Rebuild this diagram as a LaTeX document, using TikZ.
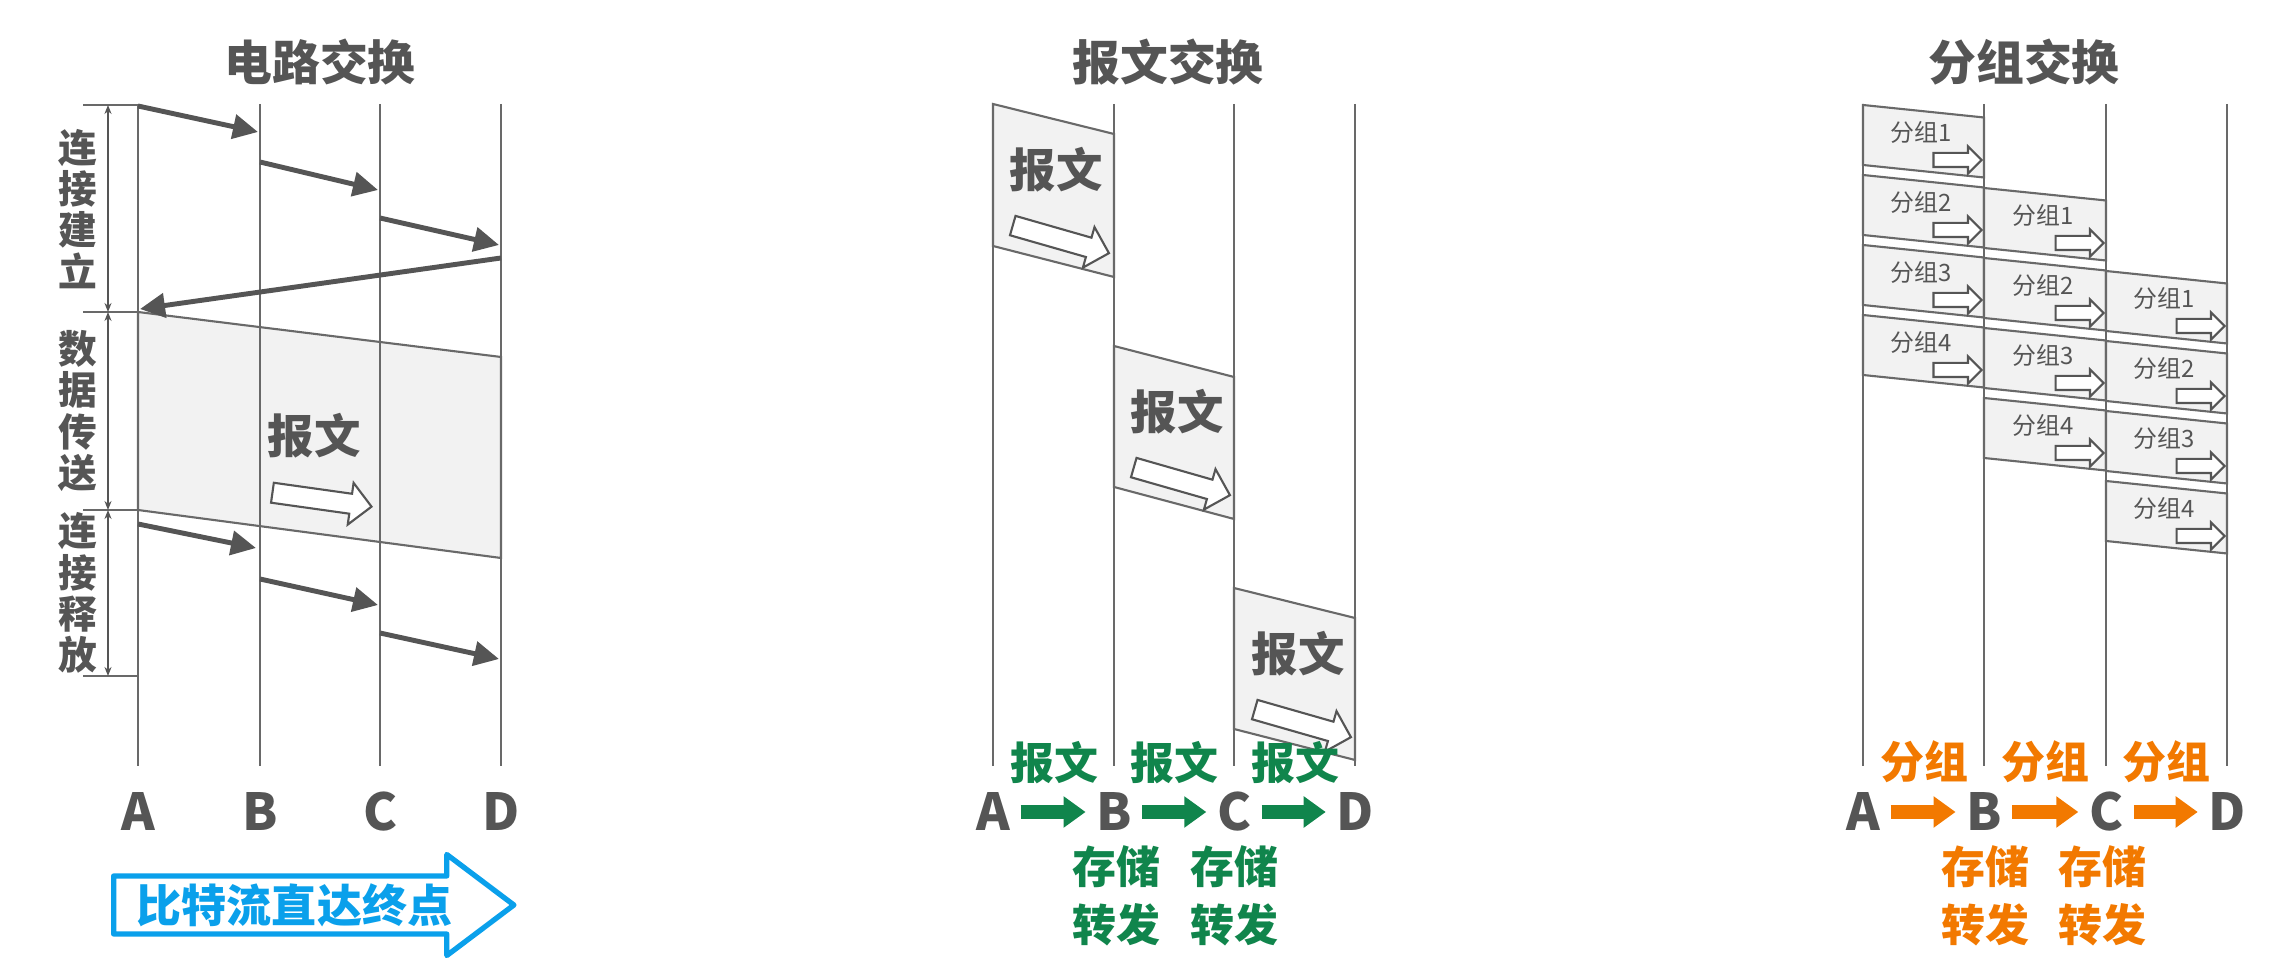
\documentclass[tikz,border=0pt]{standalone}
\usepackage{fontspec}
\setmainfont{Noto Sans CJK SC}
\usepackage{tikz}
\usetikzlibrary{positioning,arrows.meta,shapes.arrows}
\definecolor{ink}{RGB}{85,85,85}
\definecolor{lifegray}{RGB}{105,105,105}
\definecolor{paper}{RGB}{242,242,242}
\definecolor{grn}{RGB}{16,133,76}
\definecolor{org}{RGB}{242,121,0}
\definecolor{sky}{RGB}{10,160,235}

\begin{document}
\begin{tikzpicture}[x=0.01cm, y=-0.01cm,
  every node/.style={inner sep=0pt, text=ink},
  headline/.style={font=\fontsize{13.6}{16}\selectfont\bfseries},
  phaselabel/.style={font=\fontsize{11}{11.7}\selectfont\bfseries, align=center},
  letter/.style={font=\fontsize{14.5}{16}\selectfont\bfseries, inner xsep=0.1cm},
  msgtext/.style={font=\fontsize{13.2}{16}\selectfont\bfseries},
  pkttext/.style={font=\fontsize{6.8}{8}\selectfont},
  hoptext/.style={font=\fontsize{12.5}{16.5}\selectfont\bfseries, align=center},
  lifeline/.style={draw=lifegray, line width=0.6pt},
  box/.style={draw=lifegray, fill=paper, line width=0.6pt},
  sig/.style={draw=ink, line width=1.4pt, -{Triangle[length=0.25cm,width=0.24cm]}},
  dim/.style={draw=ink, line width=0.5pt, {Stealth[length=0.09cm,width=0.07cm]}-{Stealth[length=0.09cm,width=0.07cm]}},
  hollow/.style={single arrow, draw=ink, fill=white, line width=0.6pt, single arrow tip angle=90},
  bigarr/.style={hollow, minimum height=1.0cm, inner ysep=0.09cm, single arrow head extend=0.11cm},
  smallarr/.style={hollow, minimum height=0.48cm, inner ysep=0.06cm, single arrow head extend=0.065cm},
  garr/.style={grn, line width=0.14cm, -{Triangle[length=0.22cm,width=0.30cm]}},
  oarr/.style={org, line width=0.14cm, -{Triangle[length=0.22cm,width=0.30cm]}},
]
\useasboundingbox (0,0) rectangle (2286,965);

% circuit switching
\node[headline] (t1) at (320,62) {电路交换};
\draw[box] (138,312) -- (501,357) -- (501,558) -- (138,510) -- cycle;
\foreach \x in {138,260,380,501} \draw[lifeline] (\x,104) -- (\x,766);
\foreach \y in {105,312,510,676} \draw[lifeline] (83,\y) -- (138,\y);
\coordinate (k1) at (108,105);
\coordinate (k2) at (108,312);
\coordinate (k3) at (108,510);
\coordinate (k4) at (108,676);
\draw[dim] (k1) -- (k2);
\draw[dim] (k2) -- (k3);
\draw[dim] (k3) -- (k4);
\node[phaselabel] (ph1) at (78,209) {连\\接\\建\\立};
\node[phaselabel] (ph2) at (78,411) {数\\据\\传\\送};
\node[phaselabel] (ph3) at (78,593) {连\\接\\释\\放};
\foreach \i/\xa/\ya/\xb/\yb in {1/138/106/258/132, 2/260/162/378/190, 3/380/218/499/245,
    4/501/258/140/309, 5/138/524/256/548, 6/260/579/378/605, 7/380/633/499/659} {
  \coordinate (s\i) at (\xa,\ya);
  \coordinate (e\i) at (\xb,\yb);
  \draw[sig] (s\i) -- (e\i);
}
\node[msgtext] (cmsg) at (314,436) {报文};
\node[bigarr, rotate=-8] (carr) at (317,499) {};
\node[letter] (cA) at (138,812) {A};
\node[letter] (cB) at (260,812) {B};
\node[letter] (cC) at (380,812) {C};
\node[letter] (cD) at (501,812) {D};
\node[single arrow, draw=sky, line width=1.5pt, line join=round, text=sky,
      font=\fontsize{12.8}{15}\selectfont\bfseries,
      minimum height=4.0cm, minimum width=1.01cm, single arrow head extend=0.18cm,
      single arrow tip angle=74, inner xsep=0.2cm, anchor=tail] (bits) at (111,905) {比特流直达终点};

% message switching
\node[headline] (t2) at (1168,62) {报文交换};
\draw[box] (993,104) -- (1114,134) -- (1114,277) -- (993,246) -- cycle;
\draw[box] (1114,346) -- (1234,377) -- (1234,519) -- (1114,487) -- cycle;
\draw[box] (1234,588) -- (1355,618) -- (1355,760) -- (1234,729) -- cycle;
\foreach \x in {993,1114,1234,1355} \draw[lifeline] (\x,104) -- (\x,766);
\node[msgtext] (m1) at (1056,170) {报文};
\node[msgtext] (m2) at (1177,412) {报文};
\node[msgtext] (m3) at (1298,654) {报文};
\node[bigarr, rotate=-16] (ma1) at (1056,238) {};
\node[bigarr, rotate=-16] (ma2) at (1177,480) {};
\node[bigarr, rotate=-16] (ma3) at (1298,722) {};
\node[hoptext, text=grn] (mh1) at (1054,763) {报文};
\node[hoptext, text=grn] (mh2) at (1174,763) {报文};
\node[hoptext, text=grn] (mh3) at (1295,763) {报文};
\node[letter] (mA) at (993,812) {A};
\node[letter] (mB) at (1114,812) {B};
\node[letter] (mC) at (1234,812) {C};
\node[letter] (mD) at (1355,812) {D};
\draw[garr] (mA) -- (mB);
\draw[garr] (mB) -- (mC);
\draw[garr] (mC) -- (mD);
\node[hoptext, text=grn] (ms1) at (1116,896) {存储\\转发};
\node[hoptext, text=grn] (ms2) at (1234,896) {存储\\转发};

% packet switching
\node[headline] (t3) at (2024,62) {分组交换};
\foreach \k/\l/\r in {0/1863/1984, 1/1984/2106, 2/2106/2227} {
  \foreach \i in {1,...,4} {
    \pgfmathsetmacro\t{105+70*(\i-1)+83*\k}
    \draw[box] (\l,\t) -- (\r,{\t+12.5}) -- (\r,{\t+72.5}) -- (\l,{\t+60}) -- cycle;
    \node[pkttext] (p\k\i) at ({(\l+\r)/2-2},{\t+27}) {分组\i};
    \node[smallarr] (pa\k\i) at ({\r-30},{\t+55}) {};
  }
}
\foreach \x in {1863,1984,2106,2227} \draw[lifeline] (\x,104) -- (\x,766);
\node[hoptext, text=org] (ph1) at (1924,762) {分组};
\node[hoptext, text=org] (ph2) at (2045,762) {分组};
\node[hoptext, text=org] (ph3) at (2166,762) {分组};
\node[letter] (pA) at (1863,812) {A};
\node[letter] (pB) at (1984,812) {B};
\node[letter] (pC) at (2106,812) {C};
\node[letter] (pD) at (2227,812) {D};
\draw[oarr] (pA) -- (pB);
\draw[oarr] (pB) -- (pC);
\draw[oarr] (pC) -- (pD);
\node[hoptext, text=org] (ps1) at (1985,896) {存储\\转发};
\node[hoptext, text=org] (ps2) at (2102,896) {存储\\转发};
\end{tikzpicture}
\end{document}
